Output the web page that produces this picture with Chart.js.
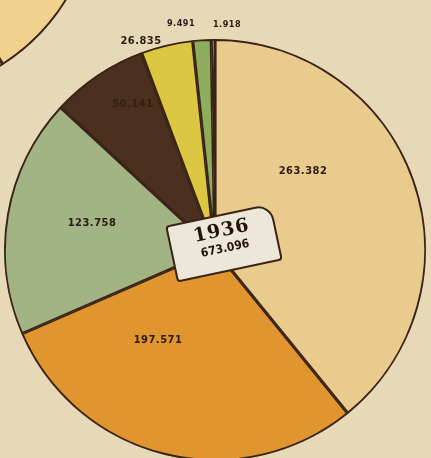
<!DOCTYPE html>
<html lang="fr">
<head>
<meta charset="UTF-8">
<title>1936</title>
<script src="https://cdn.jsdelivr.net/npm/chart.js@4.4.0/dist/chart.umd.min.js"></script>
<style>
    html, body { margin: 0; padding: 0; }
    body {
        width: 431px; height: 458px; overflow: hidden; position: relative;
        background: #e7d8b8;
        font-family: "DejaVu Sans Condensed", "DejaVu Sans", sans-serif;
    }
    .pie { position: absolute; }
    #main { left: 4px; top: 39px; width: 422px; height: 422px; }
    #corner { left: -304px; top: -304px; width: 400px; height: 400px; }
    .lbl {
        position: absolute; transform: translate(-50%, -50%);
        font-size: 11px; font-weight: bold; color: #2b1a12;
        white-space: nowrap; letter-spacing: 0.5px;
    }
    .tag {
        position: absolute; left: 170px; top: 214px; width: 104px; height: 54px;
        background: #ede7da; border: 2px solid #3a2418; border-radius: 4px 16px 4px 4px;
        transform: rotate(-12deg); text-align: center; color: #1f130d;
    }
    .tag .an { font-family: "DejaVu Serif", serif; font-weight: bold; font-size: 19px; margin-top: 2px; letter-spacing: 1px; }
    .tag .tot { font-size: 12px; font-weight: bold; margin-top: 1px; }
</style>
</head>
<body>

<div class="pie" id="corner"><canvas id="cornerChart"></canvas></div>
<div class="pie" id="main"><canvas id="mainChart"></canvas></div>

<div class="tag"><div class="an">1936</div><div class="tot">673.096</div></div>

<script>
    // valeurs
    var annee = "1936";
    var total = "673.096";
    var valeurs = [263382, 197571, 123758, 50141, 26835, 9491, 1918];
    var etiquettes = ["263.382", "197.571", "123.758", "50.141", "26.835", "9.491", "1.918"];
    var couleurs = ["#eacb8e", "#e0952f", "#a3b484", "#4b3020", "#dcc743", "#8eae5e", "#efe6cf"];

    // morceau du graphique voisin (coin haut gauche)
    var valeursCoin = [41, 59];
    var couleursCoin = ["#f0d28c", "#e6a94a"];

    // position des textes
    var posEtiquettes = [[303, 170], [158, 339], [92, 222], [133, 103], [141, 40], [181, 23], [227, 24]];
    var couleursTexte = ["#2b1a12", "#2b1a12", "#2b1a12", "#35200f", "#2b1a12", "#2b1a12", "#2b1a12"];

    for (var i = 0; i < etiquettes.length; i++) {
        var d = document.createElement("div");
        d.className = "lbl";
        d.style.left = posEtiquettes[i][0] + "px";
        d.style.top = posEtiquettes[i][1] + "px";
        d.style.color = couleursTexte[i];
        if (i == 5 || i == 6) d.style.fontSize = "9px";
        d.textContent = etiquettes[i];
        document.body.appendChild(d);
    }

    var opts = {
        responsive: true,
        maintainAspectRatio: false,
        animation: false,
        events: [],
        layout: { padding: 0 },
        plugins: { legend: { display: false }, tooltip: { enabled: false } }
    };

    new Chart(document.getElementById("mainChart"), {
        type: "pie",
        data: {
            labels: etiquettes,
            datasets: [{
                data: valeurs,
                backgroundColor: couleurs,
                borderColor: "#3a2418",
                borderWidth: 1.6,
                borderAlign: "inner"
            }]
        },
        options: opts
    });

    new Chart(document.getElementById("cornerChart"), {
        type: "pie",
        data: {
            labels: ["a", "b"],
            datasets: [{
                data: valeursCoin,
                backgroundColor: couleursCoin,
                borderColor: "#3a2418",
                borderWidth: 1.6,
                borderAlign: "inner"
            }]
        },
        options: opts
    });
</script>
</body>
</html>
